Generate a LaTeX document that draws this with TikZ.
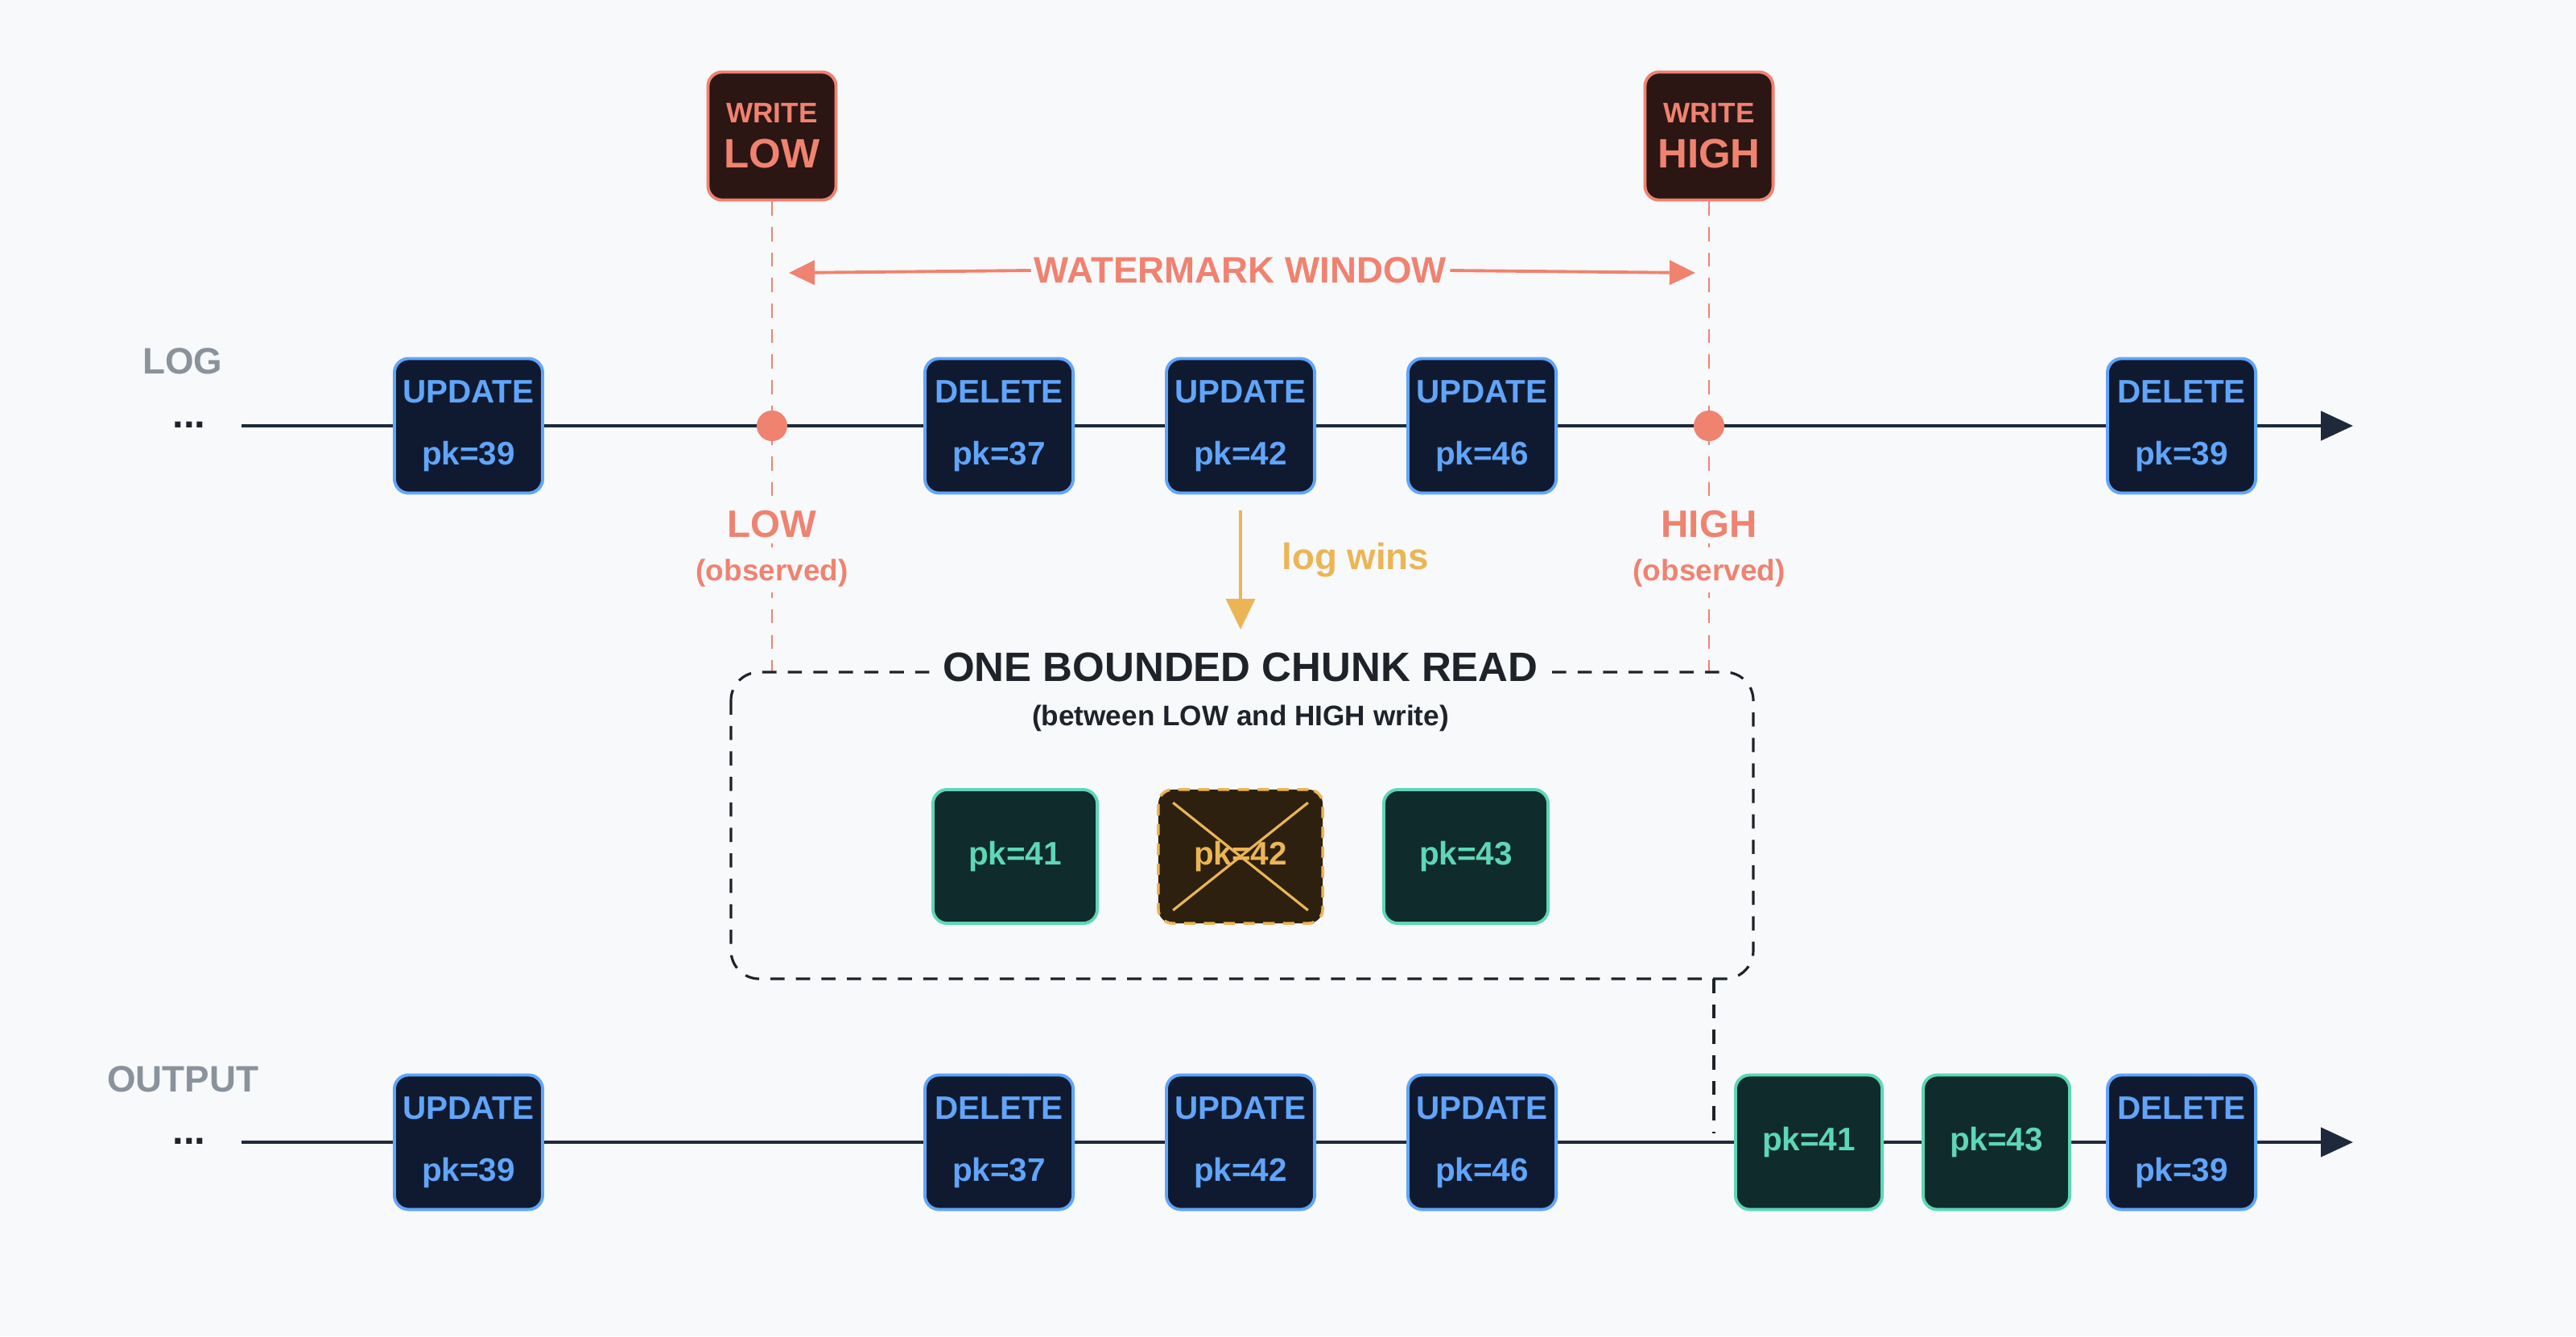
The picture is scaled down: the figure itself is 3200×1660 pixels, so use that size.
\documentclass[tikz,border=0pt]{standalone}
\usepackage{fontspec}
\setmainfont{Liberation Sans}
\usetikzlibrary{arrows.meta}
\definecolor{bg}{HTML}{F7F9FB}
\definecolor{navy}{HTML}{1E293B}
\definecolor{bfill}{HTML}{0F1A30}
\definecolor{blue}{HTML}{60A5FA}
\definecolor{red}{HTML}{F08270}
\definecolor{rfill}{HTML}{2B1614}
\definecolor{gfill}{HTML}{0F2B2B}
\definecolor{green}{HTML}{5ED6B8}
\definecolor{yel}{HTML}{EBB556}
\definecolor{yfill}{HTML}{2E200E}
\definecolor{grey}{HTML}{8A929C}
\definecolor{ink}{HTML}{1F2329}
\begin{document}
\begin{tikzpicture}[x=0.01cm,y=-0.01cm,
  ev/.style={draw=blue,fill=bfill,line width=1.1pt,rounded corners=5pt,minimum width=1.84cm,minimum height=1.67cm,text=blue,font=\bfseries\fontsize{11.5}{22}\selectfont,align=center,inner sep=0},
  gr/.style={draw=green,fill=gfill,line width=1.1pt,rounded corners=5pt,minimum width=#1,minimum height=1.66cm,text=green,font=\bfseries\fontsize{11.5}{14}\selectfont,inner sep=0},
  gr/.default=2.04cm,
  wb/.style={draw=red,fill=rfill,line width=1.1pt,rounded corners=5pt,minimum width=1.59cm,minimum height=1.59cm,text=red,align=center,inner sep=0},
  rdash/.style={red,line width=0.8pt,dash pattern=on 5pt off 4pt},
  lab/.style={font=\bfseries\fontsize{13}{15}\selectfont,text=grey},
  tl/.style={navy,line width=1.3pt}]
\fill[bg] (0,0) rectangle (3200,1660);
\useasboundingbox (0,0) rectangle (3200,1660);
% labels
\node[lab] (log) at (227,449) {LOG};
\node[lab] (out) at (227,1341) {OUTPUT};
\node[font=\bfseries\fontsize{14}{14}\selectfont,text=ink] (d1) at (235,528) {...};
\node[font=\bfseries\fontsize{14}{14}\selectfont,text=ink] (d2) at (235,1418) {...};
% lines
\coordinate (ls) at (300,529); \coordinate (le) at (2923,529);
\coordinate (os) at (300,1419); \coordinate (oe) at (2923,1419);
\draw[tl,-{Triangle[length=0.4cm,width=0.36cm]}] (ls) -- (le);
\draw[tl,-{Triangle[length=0.4cm,width=0.36cm]}] (os) -- (oe);
% write boxes
\node[wb] (wl) at (959,169) {{\bfseries\fontsize{10}{12}\selectfont WRITE}\\[4pt]{\bfseries\fontsize{14.5}{16}\selectfont LOW}};
\node[wb] (wh) at (2123,169) {{\bfseries\fontsize{10}{12}\selectfont WRITE}\\[4pt]{\bfseries\fontsize{14.5}{16}\selectfont HIGH}};
\coordinate (lowend) at (959,835); \coordinate (highend) at (2123,835);
\draw[rdash] (wl.south) -- (lowend);
\draw[rdash] (wh.south) -- (highend);
% watermark window
\coordinate (wa) at (980,339); \coordinate (wz) at (2106,339);
\node[fill=bg,inner sep=1pt,text=red,font=\bfseries\fontsize{13}{15}\selectfont] (wm) at (1541,336) {WATERMARK WINDOW};
\draw[red,line width=1.1pt,{Triangle[length=0.32cm,width=0.3cm]}-] (wa) -- (wm.west);
\draw[red,line width=1.1pt,-{Triangle[length=0.32cm,width=0.3cm]}] (wm.east) -- (wz);
\node[fill=bg,inner sep=2pt,text=red,font=\bfseries\fontsize{13.5}{15}\selectfont] (lowl) at (959,651) {LOW};
\node[fill=bg,inner sep=2pt,text=red,font=\bfseries\fontsize{10.5}{12}\selectfont] (lowo) at (959,712) {(observed)};
\node[fill=bg,inner sep=2pt,text=red,font=\bfseries\fontsize{13.5}{15}\selectfont] (highl) at (2123,651) {HIGH};
\node[fill=bg,inner sep=2pt,text=red,font=\bfseries\fontsize{10.5}{12}\selectfont] (higho) at (2123,712) {(observed)};
\node[circle,fill=red,minimum size=0.38cm,inner sep=0] (dl) at (959,529) {};
\node[circle,fill=red,minimum size=0.38cm,inner sep=0] (dh) at (2123,529) {};
% top events
\node[ev] (t1) at (582,529) {UPDATE\\pk=39};
\node[ev] (t2) at (1241,529) {DELETE\\pk=37};
\node[ev] (t3) at (1541,529) {UPDATE\\pk=42};
\node[ev] (t4) at (1841,529) {UPDATE\\pk=46};
\node[ev] (t5) at (2710,529) {DELETE\\pk=39};
% log wins
\coordinate (lwe) at (1541,782);
\draw[yel,line width=1pt,-{Triangle[length=0.38cm,width=0.36cm]}] (t3.south)++(0,20) -- (lwe);
\node[text=yel,font=\bfseries\fontsize{13}{15}\selectfont,anchor=west] (lw) at (1580,696) {log wins};
% chunk
\draw[ink,line width=0.9pt,dash pattern=on 5pt off 4pt,rounded corners=10pt] (908,835) rectangle (2178,1216);
\node[fill=bg,inner sep=4pt,text=ink,font=\bfseries\fontsize{14.5}{16}\selectfont] (ct) at (1541,829) {ONE BOUNDED CHUNK READ};
\node[text=ink,font=\bfseries\fontsize{10}{12}\selectfont] (cs) at (1541,892) {(between LOW and HIGH write)};
\node[gr] (c1) at (1261,1064) {pk=41};
\node[draw=yel,fill=yfill,line width=1pt,dash pattern=on 4pt off 3pt,rounded corners=5pt,minimum width=2.04cm,minimum height=1.66cm,text=yel,font=\bfseries\fontsize{11.5}{14}\selectfont,inner sep=0] (c2) at (1541,1064) {pk=42};
\draw[yel,line width=0.9pt] ([shift={(20,18)}]c2.north west) -- ([shift={(-20,-18)}]c2.south east);
\draw[yel,line width=0.9pt] ([shift={(-20,18)}]c2.north east) -- ([shift={(20,-18)}]c2.south west);
\node[gr] (c3) at (1821,1064) {pk=43};
% connector
\coordinate (cb) at (2129,1216); \coordinate (cbe) at (2129,1408);
\draw[ink,line width=0.9pt,dash pattern=on 5pt off 4pt] (cb) -- (cbe);
% output events
\node[ev] (o1) at (582,1419) {UPDATE\\pk=39};
\node[ev] (o2) at (1241,1419) {DELETE\\pk=37};
\node[ev] (o3) at (1541,1419) {UPDATE\\pk=42};
\node[ev] (o4) at (1841,1419) {UPDATE\\pk=46};
\node[gr=1.82cm,minimum height=1.67cm] (o5) at (2247,1419) {pk=41};
\node[gr=1.82cm,minimum height=1.67cm] (o6) at (2480,1419) {pk=43};
\node[ev] (o7) at (2710,1419) {DELETE\\pk=39};
\end{tikzpicture}
\end{document}
